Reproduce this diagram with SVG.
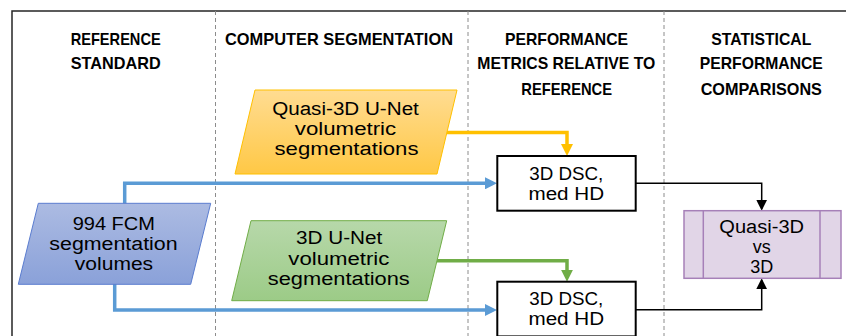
<svg xmlns="http://www.w3.org/2000/svg" width="846" height="336" viewBox="0 0 846 336">
<style>
.hdr{font-family:"Liberation Sans",Arial,sans-serif;font-weight:bold;font-size:17px;fill:#000;text-anchor:middle}
.txt{font-family:"Liberation Sans",Arial,sans-serif;font-size:18px;fill:#000;text-anchor:middle}
.div{stroke:#8c8c8c;stroke-width:1;stroke-dasharray:4 3;fill:none}
.frame{stroke:#262626;stroke-width:1.5;fill:none}
.box{fill:#fff;stroke:#000;stroke-width:2}
.blue{stroke:#5b9bd5;stroke-width:3.5;fill:none}
.yel{stroke:#ffc000;stroke-width:3.5;fill:none}
.grn{stroke:#70ad47;stroke-width:3.5;fill:none}
.blk{stroke:#000;stroke-width:1.5;fill:none}
</style>
<defs>
<linearGradient id="gY" x1="0" y1="0" x2="0" y2="1"><stop offset="0" stop-color="#ffdc92"/><stop offset="1" stop-color="#ffc845"/></linearGradient>
<linearGradient id="gB" x1="0" y1="0" x2="0" y2="1"><stop offset="0" stop-color="#acbbe2"/><stop offset="1" stop-color="#8aa1d9"/></linearGradient>
<linearGradient id="gG" x1="0" y1="0" x2="0" y2="1"><stop offset="0" stop-color="#b7d8aa"/><stop offset="1" stop-color="#9ccb87"/></linearGradient>
<marker id="aB" markerUnits="userSpaceOnUse" viewBox="0 0 12 12" markerWidth="12" markerHeight="12" refX="8" refY="6" orient="auto"><path d="M0,0 L12,6 L0,12 z" fill="#5b9bd5"/></marker>
<marker id="aY" markerUnits="userSpaceOnUse" viewBox="0 0 12 12" markerWidth="12" markerHeight="12" refX="8" refY="6" orient="auto"><path d="M0,0 L12,6 L0,12 z" fill="#ffc000"/></marker>
<marker id="aG" markerUnits="userSpaceOnUse" viewBox="0 0 12 12" markerWidth="12" markerHeight="12" refX="8" refY="6" orient="auto"><path d="M0,0 L12,6 L0,12 z" fill="#70ad47"/></marker>
<marker id="aK" markerUnits="userSpaceOnUse" viewBox="0 0 11 11" markerWidth="11" markerHeight="11" refX="9" refY="5.5" orient="auto"><path d="M0,0 L11,5.5 L0,11 z" fill="#000"/></marker>
</defs>
<rect width="846" height="336" fill="#fff"/>
<g id="frame">
<path class="frame" d="M12,336 V11 H846"/>
<line class="div" x1="215.5" y1="11" x2="215.5" y2="336"/>
<line class="div" x1="468" y1="11" x2="468" y2="336"/>
<line class="div" x1="664" y1="11" x2="664" y2="336"/>
</g>
<g id="headers">
<text class="hdr" x="115.7" y="44.5" textLength="90" lengthAdjust="spacingAndGlyphs">REFERENCE</text>
<text class="hdr" x="115.7" y="68.7" textLength="90" lengthAdjust="spacingAndGlyphs">STANDARD</text>
<text class="hdr" x="339" y="44.5" textLength="228" lengthAdjust="spacingAndGlyphs">COMPUTER SEGMENTATION</text>
<text class="hdr" x="566.5" y="44.5" textLength="123" lengthAdjust="spacingAndGlyphs">PERFORMANCE</text>
<text class="hdr" x="566.3" y="69" textLength="178" lengthAdjust="spacingAndGlyphs">METRICS RELATIVE TO</text>
<text class="hdr" x="566.7" y="94.5" textLength="90.7" lengthAdjust="spacingAndGlyphs">REFERENCE</text>
<text class="hdr" x="761.3" y="44.5" textLength="100" lengthAdjust="spacingAndGlyphs">STATISTICAL</text>
<text class="hdr" x="761.3" y="69" textLength="123" lengthAdjust="spacingAndGlyphs">PERFORMANCE</text>
<text class="hdr" x="761.3" y="94.5" textLength="121.3" lengthAdjust="spacingAndGlyphs">COMPARISONS</text>
</g>
<g id="connectors">
<path class="blue" d="M124.7,204 V183.3 H493" marker-end="url(#aB)"/>
<path class="blue" d="M114.7,284 V310 H493" marker-end="url(#aB)"/>
<path class="yel" d="M446,132.5 H567 V152" marker-end="url(#aY)"/>
<path class="grn" d="M436,260.7 H567 V277.7" marker-end="url(#aG)"/>
<path class="blk" d="M636,183.3 H761.7 V208.7" marker-end="url(#aK)"/>
<path class="blk" d="M636,309.7 H761.7 V280.3" marker-end="url(#aK)"/>
</g>
<g id="quasi3d-seg">
<polygon points="255,90 457,90 437,174 235,174" fill="url(#gY)" stroke="#ffc000" stroke-width="1"/>
<text class="txt" x="345.5" y="114.6" textLength="146.7" lengthAdjust="spacingAndGlyphs">Quasi-3D U-Net</text>
<text class="txt" x="345.5" y="134.8" textLength="101.3" lengthAdjust="spacingAndGlyphs">volumetric</text>
<text class="txt" x="346.5" y="155" textLength="144" lengthAdjust="spacingAndGlyphs">segmentations</text>
</g>
<g id="fcm-volumes">
<polygon points="38.3,203.3 210.7,203.3 190.7,284.3 18.3,284.3" fill="url(#gB)" stroke="#5a7ccf" stroke-width="1"/>
<text class="txt" x="113.8" y="229.5" textLength="82.3" lengthAdjust="spacingAndGlyphs">994 FCM</text>
<text class="txt" x="113.5" y="249.7" textLength="128.3" lengthAdjust="spacingAndGlyphs">segmentation</text>
<text class="txt" x="114" y="269.9" textLength="78.3" lengthAdjust="spacingAndGlyphs">volumes</text>
</g>
<g id="unet3d-seg">
<polygon points="251,220.7 446.7,220.7 427.3,300.7 231.7,300.7" fill="url(#gG)" stroke="#70ad47" stroke-width="1"/>
<text class="txt" x="339.2" y="244.3" textLength="86.3" lengthAdjust="spacingAndGlyphs">3D U-Net</text>
<text class="txt" x="338.8" y="264.5" textLength="101" lengthAdjust="spacingAndGlyphs">volumetric</text>
<text class="txt" x="338.8" y="284.7" textLength="142" lengthAdjust="spacingAndGlyphs">segmentations</text>
</g>
<g id="metrics-quasi">
<rect class="box" x="497.3" y="156" width="138.4" height="54.7"/>
<text class="txt" x="566.3" y="179.6" textLength="74" lengthAdjust="spacingAndGlyphs">3D DSC,</text>
<text class="txt" x="566.3" y="199.8" textLength="75.7" lengthAdjust="spacingAndGlyphs">med HD</text>
</g>
<g id="metrics-3d">
<rect class="box" x="497.3" y="281.7" width="138.4" height="54.7"/>
<text class="txt" x="566.3" y="305.2" textLength="74" lengthAdjust="spacingAndGlyphs">3D DSC,</text>
<text class="txt" x="566.3" y="325.4" textLength="75.7" lengthAdjust="spacingAndGlyphs">med HD</text>
</g>
<g id="comparison">
<rect x="684" y="210.7" width="157" height="67.6" fill="#e1d5e7" stroke="#a680b8" stroke-width="1.5"/>
<line x1="703.3" y1="210.7" x2="703.3" y2="278.3" stroke="#a680b8" stroke-width="1.5"/>
<line x1="820" y1="210.7" x2="820" y2="278.3" stroke="#a680b8" stroke-width="1.5"/>
<text class="txt" x="761.7" y="232.5" textLength="84.7" lengthAdjust="spacingAndGlyphs">Quasi-3D</text>
<text class="txt" x="761.7" y="252.7">vs</text>
<text class="txt" x="761.7" y="272.9">3D</text>
</g>
</svg>
